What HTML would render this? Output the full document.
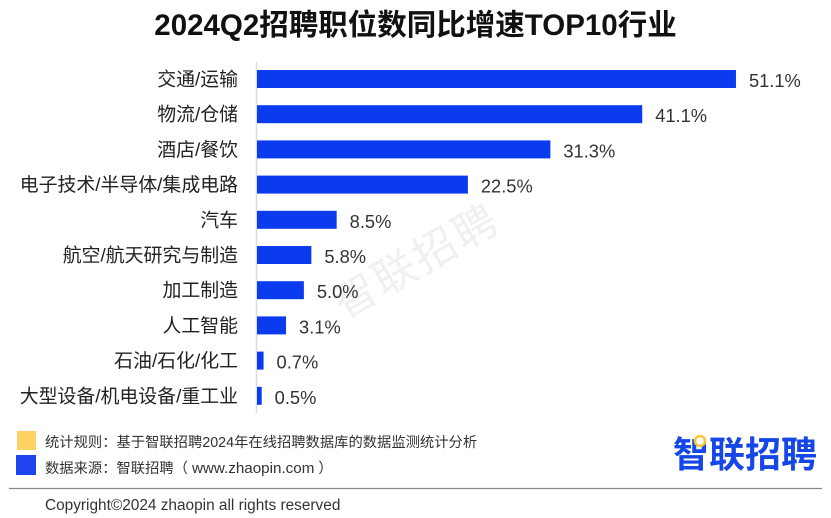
<!DOCTYPE html>
<html lang="zh">
<head>
<meta charset="utf-8">
<title>2024Q2招聘职位数同比增速TOP10行业</title>
<style>
html,body{margin:0;padding:0;background:#fff;width:831px;height:518px;overflow:hidden}
svg{display:block;font-family:"Liberation Sans","Noto Sans CJK SC",sans-serif}
.tc{font-family:"Noto Sans CJK TC",sans-serif}
</style>
</head>
<body>
<svg id="chart" width="831" height="518" viewBox="0 0 831 518" xmlns="http://www.w3.org/2000/svg">
  <rect width="831" height="518" fill="#fff"/>
  <text x="415.5" y="35" text-anchor="middle" font-size="29.5" font-weight="700" fill="#111">2024Q2招聘职位数同比增速TOP10行业</text>
  <text transform="translate(418 264) rotate(-30)" text-anchor="middle" dominant-baseline="middle" font-size="43" letter-spacing="3" fill="#f0f0f0">智联招聘</text>
  <line x1="256.5" y1="62" x2="256.5" y2="413" stroke="#dcdcdc" stroke-width="1.5"/>
  <g id="bars"></g>
  <rect x="17" y="431" width="19" height="19" fill="#fdd262"/>
  <text x="45" y="447" font-size="14.3" fill="#333">统计规则<tspan class="tc">：</tspan>基于智联招聘2024年在线招聘数据库的数据监测统计分析</text>
  <rect x="16" y="455" width="20" height="20" fill="#1f45ef"/>
  <text x="45" y="473" font-size="14.3" fill="#333">数据来源<tspan class="tc">：</tspan>智联招聘<tspan class="tc">（</tspan> <tspan font-size="15.2">www.zhaopin.com</tspan> <tspan class="tc">）</tspan></text>
  <line x1="9" y1="488.5" x2="822" y2="488.5" stroke="#888" stroke-width="1.2"/>
  <text x="45" y="510" font-size="15.4" fill="#333">Copyright©2024 zhaopin all rights reserved</text>
  <text x="673" y="467" font-size="36" font-weight="700" fill="#1546e8">智联招聘</text>
  <circle cx="700" cy="441" r="5" fill="#fff" stroke="#fdc62f" stroke-width="2.5"/>
</svg>
<script>
const categories = ["交通/运输","物流/仓储","酒店/餐饮","电子技术/半导体/集成电路","汽车","航空/航天研究与制造","加工制造","人工智能","石油/石化/化工","大型设备/机电设备/重工业"];
const growthValues = [51.1,41.1,31.3,22.5,8.5,5.8,5.0,3.1,0.7,0.5];

const SVG_NS = "http://www.w3.org/2000/svg";
const group = document.getElementById("bars");
function xScale(v){ return 257 + v * 9.373; }
function yCenter(i){ return 79 + i * 35.2; }
const barHeight = 18;

categories.forEach(function(cat, i){
  const value = growthValues[i];
  const cy = yCenter(i);

  const label = document.createElementNS(SVG_NS, "text");
  
  
  label.setAttribute("x", 238);
  label.setAttribute("y", cy + 6.5);
  label.setAttribute("text-anchor", "end");
  label.setAttribute("font-size", "18.9");
  label.setAttribute("fill", "#222");
  label.textContent = cat;
  group.appendChild(label);

  const bar = document.createElementNS(SVG_NS, "rect");
  
  
  bar.setAttribute("x", xScale(0));
  bar.setAttribute("y", cy - barHeight / 2);
  bar.setAttribute("width", xScale(value) - xScale(0));
  bar.setAttribute("height", barHeight);
  bar.setAttribute("fill", "#0a3bee");
  group.appendChild(bar);

  const val = document.createElementNS(SVG_NS, "text");
  
  
  val.setAttribute("x", xScale(value) + 13);
  val.setAttribute("y", cy + 8);
  val.setAttribute("font-size", "18.3");
  val.setAttribute("fill", "#333");
  val.textContent = value.toFixed(1) + "%";
  group.appendChild(val);
});
</script>
</body>
</html>
